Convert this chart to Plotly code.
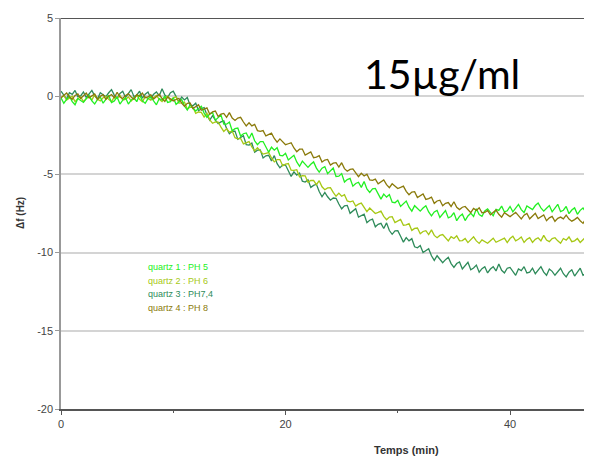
import plotly.graph_objects as go

# sampling (minutes)
t_start = 0.0
t_step = 0.25

series_names = ["quartz 1 : PH 5", "quartz 2 : PH 6", "quartz 3 : PH7,4", "quartz 4 : PH 8"]
series_colors = ["#22f022", "#a6c814", "#2e8b5a", "#8a7a0a"]

q1 = [-0.1,-0.45,-0.2,0.0,-0.35,-0.55,-0.15,-0.3,
      -0.4,-0.15,0.05,-0.3,-0.5,-0.2,-0.05,-0.45,
      -0.2,0.05,-0.4,-0.3,-0.05,-0.5,-0.25,-0.1,
      -0.5,-0.25,-0.1,-0.35,0.1,-0.3,-0.45,-0.15,
      -0.05,-0.3,-0.55,-0.15,-0.25,0.0,-0.4,-0.35,
      -0.1,-0.52,-0.34,-0.21,-0.63,-0.89,-0.56,-0.78,
      -0.95,-0.78,-0.65,-1.08,-1.35,-1.13,-1.05,-1.53,
      -1.35,-1.21,-1.78,-1.79,-1.65,-2.21,-2.08,-2.04,
      -2.55,-2.4,-2.35,-2.7,-2.35,-2.85,-3.1,-2.9,
      -2.9,-3.24,-3.58,-3.26,-3.45,-3.29,-3.78,-3.81,
      -3.65,-4.08,-3.9,-3.78,-4.2,-4.48,-4.15,-4.38,
      -4.55,-4.35,-4.2,-4.6,-4.85,-4.6,-4.5,-4.95,
      -4.75,-4.59,-5.13,-5.11,-4.95,-5.49,-5.33,-5.26,
      -5.75,-5.58,-5.5,-5.83,-5.45,-5.93,-6.15,-5.93,
      -5.9,-6.24,-6.58,-6.26,-6.45,-6.29,-6.78,-6.81,
      -6.65,-7.05,-6.85,-6.7,-7.1,-7.35,-7.0,-7.2,
      -7.35,-7.15,-7.0,-7.4,-7.65,-7.4,-7.3,-7.75,
      -7.55,-7.31,-7.78,-7.69,-7.45,-7.96,-7.68,-7.54,
      -7.95,-7.66,-7.48,-7.69,-7.2,-7.56,-7.68,-7.34,
      -7.2,-7.43,-7.65,-7.23,-7.3,-7.03,-7.4,-7.33,
      -7.05,-7.39,-7.13,-6.92,-7.25,-7.44,-7.02,-7.16,
      -7.25,-6.99,-6.83,-7.14,-7.35,-7.16,-6.99,-7.39,
      -7.15,-6.91,-7.38,-7.29,-7.05,-7.51,-7.28,-7.14,
      -7.55,-7.3,-7.15,-7.4,-6.95,-7.35,-7.5,-7.2]

q2 = [-0.1,0.05,-0.25,-0.15,0.0,-0.35,-0.15,-0.05,
      -0.35,-0.15,-0.05,-0.25,0.1,-0.2,-0.3,-0.1,
      0.0,-0.2,-0.35,-0.05,-0.15,0.05,-0.25,-0.2,
      -0.05,-0.3,-0.1,0.05,-0.2,-0.35,-0.05,-0.15,
      -0.25,-0.1,0.05,-0.2,-0.35,-0.1,0.0,-0.3,
      -0.1,-0.04,-0.44,-0.43,-0.38,-0.82,-0.71,-0.71,
      -1.1,-1.01,-1.03,-1.34,-1.1,-1.51,-1.73,-1.64,
      -1.65,-1.98,-2.25,-2.08,-2.3,-2.23,-2.65,-2.73,
      -2.7,-3.05,-2.95,-2.9,-3.25,-3.5,-3.3,-3.5,
      -3.7,-3.65,-3.6,-3.95,-4.2,-4.05,-4.05,-4.45,
      -4.35,-4.31,-4.73,-4.74,-4.7,-5.16,-5.08,-5.09,
      -5.5,-5.39,-5.38,-5.66,-5.4,-5.79,-5.98,-5.86,
      -5.85,-6.15,-6.4,-6.2,-6.4,-6.3,-6.7,-6.75,
      -6.7,-7.03,-6.9,-6.83,-7.15,-7.38,-7.15,-7.33,
      -7.5,-7.43,-7.35,-7.68,-7.9,-7.73,-7.7,-8.08,
      -7.95,-7.88,-8.25,-8.23,-8.15,-8.58,-8.45,-8.43,
      -8.8,-8.65,-8.6,-8.85,-8.55,-8.9,-9.05,-8.9,
      -8.85,-9.08,-9.25,-8.98,-9.1,-8.93,-9.25,-9.23,
      -9.1,-9.36,-9.18,-8.99,-9.25,-9.41,-9.19,-9.29,
      -9.4,-9.24,-9.08,-9.34,-9.25,-9.19,-9.07,-9.36,
      -9.1,-8.95,-9.25,-9.15,-9.0,-9.35,-9.15,-9.05,
      -9.35,-9.15,-9.05,-9.25,-8.9,-9.2,-9.3,-9.1,
      -9.05,-9.25,-9.4,-9.1,-9.2,-9.0,-9.3,-9.25,
      -9.1,-9.35,-9.15,-9.0,-9.25,-9.4,-9.1,-9.2]

q3 = [0.32,0.07,-0.18,0.22,0.12,0.37,-0.03,0.02,
      0.27,-0.08,0.17,0.37,0.02,-0.18,0.22,0.07,
      -0.03,0.22,0.42,0.07,-0.13,0.17,0.32,-0.08,
      0.17,0.42,-0.03,0.07,0.32,-0.13,0.12,0.27,
      -0.13,0.12,0.27,0.02,0.47,0.07,-0.08,0.22,
      0.32,-0.02,-0.36,-0.05,-0.24,-0.08,-0.57,-0.61,
      -0.45,-0.93,-0.8,-0.73,-1.2,-1.53,-1.25,-1.53,
      -1.75,-1.64,-1.58,-2.06,-2.4,-2.24,-2.23,-2.76,
      -2.65,-2.53,-3.1,-3.13,-3.0,-3.58,-3.45,-3.43,
      -3.95,-3.81,-3.78,-4.14,-3.8,-4.31,-4.58,-4.39,
      -4.4,-4.76,-5.13,-4.84,-5.05,-4.91,-5.43,-5.49,
      -5.35,-5.83,-5.7,-5.63,-6.1,-6.43,-6.15,-6.43,
      -6.65,-6.51,-6.53,-6.89,-7.2,-7.01,-6.98,-7.49,
      -7.35,-7.19,-7.73,-7.66,-7.55,-8.09,-7.93,-7.86,
      -8.35,-8.19,-8.13,-8.46,-8.1,-8.59,-8.83,-8.61,
      -8.6,-8.96,-9.33,-9.04,-9.25,-9.11,-9.63,-9.69,
      -9.55,-10.0,-9.85,-9.75,-10.2,-10.5,-10.2,-10.45,
      -10.65,-10.45,-10.3,-10.7,-10.95,-10.7,-10.6,-11.05,
      -10.85,-10.62,-11.1,-10.98,-10.8,-11.25,-11.03,-10.9,
      -11.3,-11.05,-10.9,-11.17,-10.73,-11.13,-11.3,-11.0,
      -10.95,-11.2,-11.45,-11.05,-11.15,-10.9,-11.3,-11.25,
      -11.0,-11.35,-11.1,-10.9,-11.25,-11.45,-11.05,-11.2,
      -11.45,-11.2,-11.0,-11.35,-11.55,-11.25,-11.1,-11.5,
      -11.25,-11.0,-11.45,-11.35,-11.1,-11.55,-11.3,-11.15]

q4 = [-0.1,0.05,0.2,-0.05,-0.2,0.05,0.15,-0.15,
      0.05,0.2,-0.1,0.0,0.15,-0.2,0.0,0.1,
      -0.2,0.0,0.1,-0.1,0.25,-0.05,-0.15,0.05,
      0.15,-0.05,-0.2,0.1,0.0,0.2,-0.1,-0.05,
      0.1,-0.18,0.0,0.12,-0.15,-0.33,-0.05,-0.18,
      -0.3,-0.21,-0.13,-0.44,-0.65,-0.46,-0.43,-0.79,
      -0.65,-0.55,-0.9,-0.85,-0.75,-1.15,-1.0,-0.95,
      -1.3,-1.15,-1.1,-1.35,-1.05,-1.4,-1.55,-1.4,
      -1.35,-1.65,-1.9,-1.7,-1.9,-1.8,-2.2,-2.25,
      -2.2,-2.54,-2.43,-2.36,-2.7,-2.94,-2.73,-2.91,
      -3.1,-3.04,-2.98,-3.31,-3.55,-3.39,-3.38,-3.76,
      -3.65,-3.56,-3.93,-3.89,-3.8,-4.21,-4.08,-4.04,
      -4.4,-4.28,-4.25,-4.53,-4.25,-4.63,-4.8,-4.68,
      -4.65,-4.93,-5.15,-4.93,-5.1,-4.98,-5.35,-5.38,
      -5.3,-5.6,-5.45,-5.35,-5.65,-5.85,-5.6,-5.75,
      -5.9,-5.83,-5.75,-6.08,-6.3,-6.13,-6.1,-6.48,
      -6.35,-6.25,-6.6,-6.55,-6.45,-6.85,-6.7,-6.65,
      -7.0,-6.85,-6.8,-7.05,-6.75,-7.1,-7.25,-7.1,
      -7.05,-7.28,-7.45,-7.18,-7.3,-7.13,-7.45,-7.43,
      -7.3,-7.58,-7.4,-7.28,-7.55,-7.73,-7.45,-7.58,
      -7.7,-7.56,-7.43,-7.64,-7.85,-7.61,-7.49,-7.84,
      -7.65,-7.49,-7.83,-7.74,-7.6,-7.96,-7.78,-7.69,
      -8.0,-7.81,-7.73,-7.84,-7.6,-7.86,-7.99,-7.89,
      -7.75,-7.96,-8.13,-7.84,-7.95,-7.76,-8.09,-8.04]

x_ticks = [0, 20, 40]
y_ticks = [5, 0, -5, -10, -15, -20]
y_tick_text = ["5", "0", "-5", "-10", "-15", "-20"]
x_title = "Temps (min)"
y_title = "Δf (Hz)"
big_label = "15µg/ml"

fig = go.Figure()
for vals, name, col in [(q3, series_names[2], series_colors[2]),
                        (q2, series_names[1], series_colors[1]),
                        (q1, series_names[0], series_colors[0]),
                        (q4, series_names[3], series_colors[3])]:
    fig.add_trace(go.Scatter(x0=t_start, dx=t_step, y=vals, mode="lines", name=name,
                             line=dict(color=col, width=1.3), showlegend=False))

# page body has an 8px margin: figure 584x453 placed at (8,8)
fig.update_layout(
    width=584, height=453,
    margin=dict(l=53, r=0, t=10, b=52),
    paper_bgcolor="white", plot_bgcolor="white",
    font=dict(family="Arial, Liberation Sans, sans-serif", color="#333"),
)
fig.update_xaxes(range=[0, 47.3], tickvals=x_ticks, ticks="outside", ticklen=4, tickwidth=1,
                 tickcolor="#555", showgrid=False, zeroline=False, showline=True,
                 linecolor="#555", linewidth=2, tickfont=dict(size=11, color="#444"),
                 minor=dict(tickvals=[10, 30], ticks="outside", ticklen=2, tickcolor="#555"))
fig.update_yaxes(range=[-20, 5], tickvals=y_ticks, ticktext=y_tick_text, ticks="outside",
                 ticklen=4, tickcolor="#999",
                 showgrid=True, gridcolor="#d4d4d4", gridwidth=1.5, zeroline=False,
                 showline=True, linecolor="#999", linewidth=1.5, tickfont=dict(size=11, color="#444"))
fig.add_shape(type="line", xref="paper", yref="y", x0=0, x1=1, y0=5, y1=5,
              line=dict(color="#555", width=2))

def px_x(px):
    return (px - 61) / 531

def px_y(py):
    return (409 - py) / 391

fig.add_annotation(text="<b>" + x_title + "</b>", xref="paper", yref="paper",
                   x=px_x(406), y=px_y(450), xanchor="center", yanchor="middle",
                   showarrow=False, font=dict(size=11, color="#333"))
fig.add_annotation(text="<b>" + y_title + "</b>", xref="paper", yref="paper",
                   x=px_x(20), y=px_y(213), xanchor="center", yanchor="middle",
                   textangle=-90, showarrow=False, font=dict(size=10, color="#333"))
fig.add_annotation(text=big_label, xref="paper", yref="paper", x=px_x(442), y=px_y(73),
                   xanchor="center", yanchor="middle", showarrow=False,
                   font=dict(family="Lato, Open Sans, sans-serif", size=41, color="black"))

legend_py = [267, 281, 294, 308]
for name, col, py in zip(series_names, series_colors, legend_py):
    fig.add_annotation(text=name, xref="paper", yref="paper", x=px_x(146), y=px_y(py),
                       xanchor="left", yanchor="middle", showarrow=False,
                       font=dict(size=9, color=col))

fig.write_html("out.html")
